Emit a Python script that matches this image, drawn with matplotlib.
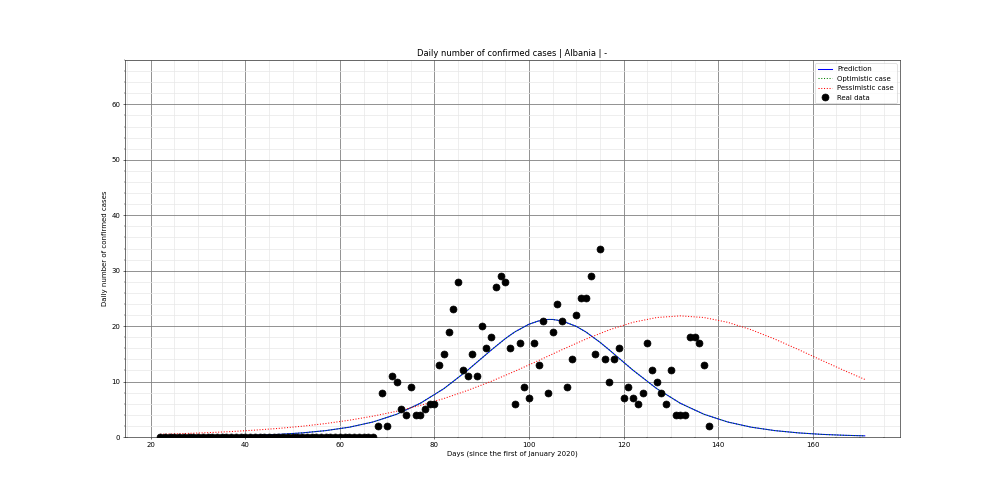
import matplotlib
matplotlib.use('Agg')
from matplotlib import pyplot as plt
from matplotlib.ticker import AutoMinorLocator

# real data: days 22..138
days = list(range(22, 139))
cases = [0]*46 + [
    2, 8, 2, 11, 10, 5, 4, 9, 4, 4, 5, 6, 6, 13, 15, 19, 23, 28, 12, 11,
    15, 11, 20, 16, 18, 27, 29, 28, 16, 6, 17, 9, 7, 17, 13, 21, 8, 19, 24, 21,
    9, 14, 22, 25, 25, 29, 15, 34, 14, 10, 14, 16, 7, 9, 7, 6, 8, 17, 12, 10,
    8, 6, 12, 4, 4, 4, 18, 18, 17, 13, 2]

# curves
curve_days = [22, 27, 32, 37, 42, 47, 52, 57, 62, 67, 72, 77, 82, 87, 92, 95,
              97, 100, 102, 104, 105, 107, 110, 112, 115, 117, 120, 122, 127,
              132, 137, 142, 147, 152, 157, 162, 167, 171]
prediction = [0.05, 0.08, 0.12, 0.19, 0.30, 0.47, 0.74, 1.15, 1.77, 2.71, 4.10,
              6.08, 8.73, 12.04, 15.68, 17.76, 18.96, 20.35, 20.93, 21.2, 21.2,
              20.93, 19.95, 18.96, 17.09, 15.68, 13.49, 12.04, 8.73, 6.08, 4.10,
              2.71, 1.77, 1.15, 0.74, 0.47, 0.30, 0.21]
optimistic = list(prediction)
pess_days = [22, 27, 32, 37, 42, 47, 52, 57, 62, 67, 72, 77, 82, 87, 92, 97,
             102, 107, 112, 117, 122, 127, 132, 137, 142, 147, 152, 157, 162,
             167, 171]
pessimistic = [0.49, 0.62, 0.78, 0.98, 1.24, 1.55, 1.94, 2.43, 3.03, 3.76, 4.64,
               5.70, 6.94, 8.40, 10.04, 11.86, 13.79, 15.76, 17.65, 19.34, 20.69,
               21.55, 21.85, 21.55, 20.69, 19.34, 17.65, 15.76, 13.79, 11.86, 10.39]

fig = plt.figure(figsize=(20, 10), dpi=50)
ax = fig.add_subplot(111)
fig.subplots_adjust(left=0.125, right=0.9, top=0.88, bottom=0.126)

ax.plot(curve_days, prediction, '-', color='blue', lw=1.5, label='Prediction')
ax.plot(curve_days, optimistic, ':', color='green', lw=1.5, label='Optimistic case')
ax.plot(pess_days, pessimistic, ':', color='red', lw=1.5, label='Pessimistic case')
ax.plot(days, cases, 'o', color='black', markersize=10, label='Real data')

ax.set_ylim(0, 68)
ax.xaxis.set_minor_locator(AutoMinorLocator())
ax.yaxis.set_minor_locator(AutoMinorLocator())
ax.grid(which='major', color='gray', lw=1.2)
ax.grid(which='minor', color='#e8e8e8', lw=1)
ax.set_axisbelow(True)

ax.set_title('Daily number of confirmed cases | Albania | -')
ax.set_xlabel('Days (since the first of January 2020)')
ax.set_ylabel('Daily number of confirmed cases')
ax.legend(loc='upper right')

fig.savefig('out.png', dpi=50)
